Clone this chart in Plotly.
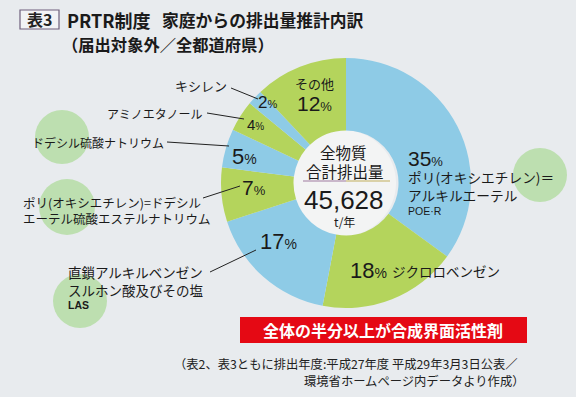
import plotly.graph_objects as go

W, H = 576, 397

# ---- data ----
names = ["ポリ(オキシエチレン)＝アルキルエーテル", "ジクロロベンゼン",
         "直鎖アルキルベンゼンスルホン酸及びその塩", "ポリ(オキシエチレン)=ドデシルエーテル硫酸エステルナトリウム",
         "ドデシル硫酸ナトリウム", "アミノエタノール", "キシレン", "その他"]
shares = [35, 18, 17, 7, 5, 4, 2, 12]
total_label = "45,628"
title_head = "PRTR制度"
title_rest = "家庭からの排出量推計内訳"
title_line2 = "（届出対象外／全都道府県）"
banner = "全体の半分以上が合成界面活性剤"
note1 = "（表2、表3ともに排出年度:平成27年度 平成29年3月3日公表／"
note2 = "環境省ホームページ内データより作成）"

BLUE = "#8ecbe6"
GREEN = "#b4d45c"
colors = [BLUE if i % 2 == 0 else GREEN for i in range(len(shares))]

JP = "Noto Sans CJK JP"
NUM = "Liberation Sans"


def X(x):
    return x / W


def Y(y):
    return 1 - y / H


fig = go.Figure()

# donut
cx, cy, r = 346, 183, 125
fig.add_trace(go.Pie(
    values=shares, labels=names, sort=False, direction="clockwise", rotation=0,
    hole=0.42, marker=dict(colors=colors, line=dict(width=0)),
    textinfo="none", hoverinfo="label+percent", showlegend=False,
    domain=dict(x=[X(cx - r), X(cx + r)], y=[Y(cy + r), Y(cy - r)]),
))

shapes = []
# decorative circles
for (x0, y0, rr) in [(62, 137, 27), (67, 207, 28), (80, 301, 27), (540, 175, 27)]:
    shapes.append(dict(type="circle", xref="paper", yref="paper", layer="below",
                       x0=X(x0 - rr), x1=X(x0 + rr), y0=Y(y0 + rr), y1=Y(y0 - rr),
                       fillcolor="#bddfb0", line=dict(width=0)))
# center white disc
hr = 53
shapes.append(dict(type="circle", xref="paper", yref="paper", layer="below",
                   x0=X(cx - 3 - hr), x1=X(cx - 3 + hr), y0=Y(cy + hr), y1=Y(cy - hr),
                   fillcolor="#f3f4f4", line=dict(width=0)))
# divider in center
shapes.append(dict(type="line", xref="paper", yref="paper",
                   x0=X(303), x1=X(346), y0=Y(181), y1=Y(181), line=dict(color="#a07aa0", width=1.2)))
shapes.append(dict(type="line", xref="paper", yref="paper",
                   x0=X(346), x1=X(390), y0=Y(181), y1=Y(181), line=dict(color="#c2ae5c", width=1.2)))
# title box
shapes.append(dict(type="rect", xref="paper", yref="paper",
                   x0=X(20), x1=X(59), y0=Y(29), y1=Y(10),
                   fillcolor="#f2f2f5", line=dict(color="#6e5f7c", width=1.2)))
# red banner
shapes.append(dict(type="rect", xref="paper", yref="paper",
                   x0=X(240), x1=X(527), y0=Y(343), y1=Y(317),
                   fillcolor="#e50914", line=dict(width=0)))
# leader lines
for (x0, y0, x1, y1) in [(231, 88, 258, 99), (207, 113, 244, 119), (167, 142, 229, 146),
                         (203, 198, 240, 186), (210, 272, 256, 250)]:
    shapes.append(dict(type="line", xref="paper", yref="paper",
                       x0=X(x0), y0=Y(y0), x1=X(x1), y1=Y(y1),
                       line=dict(color="#222222", width=1)))

ann = []


def T(x, y, text, size, anchor="left", color="#1a1a1a", family=JP):
    ann.append(dict(x=X(x), y=Y(y), xref="paper", yref="paper", text=text,
                    showarrow=False, xanchor=anchor, yanchor="middle",
                    font=dict(size=size, color=color, family=family)))


def pct(v, small):
    return f"{v}<span style='font-size:{small}px'>%</span>"


# title
T(39.5, 19.5, "<b>表3</b>", 16, "center", "#222")
T(65, 20, f"<b>{title_head}</b>", 18)
T(160, 20, f"<b>{title_rest}</b>", 16.8)
T(60, 44, f"<b>{title_line2}</b>", 16.3)

# left labels
T(229, 85, names[6], 13, "right")
T(256, 102, pct(shares[6], 11), 17, family=NUM)
T(204, 113, names[5], 12, "right")
T(245, 124, pct(shares[5], 10), 15, family=NUM)
T(166, 142, names[4], 12, "right")
T(230, 156, pct(shares[4], 14), 22, family=NUM)
T(240, 188, pct(shares[3], 13), 21, family=NUM)
T(21, 202, "ポリ(オキシエチレン)=ドデシル", 12.5)
T(21, 218, "エーテル硫酸エステルナトリウム", 12.5)
T(258, 241, pct(shares[2], 14), 22, family=NUM)
T(66, 272, "直鎖アルキルベンゼン", 13.5)
T(66, 290, "スルホン酸及びその塩", 13.5)
T(66, 305, "<b>LAS</b>", 10.5, family=NUM)

# top / right labels
T(314, 83, names[7], 13, "center")
T(314, 103, pct(shares[7], 13), 21, "center", family=NUM)
T(406, 158, pct(shares[0], 13), 21, family=NUM)
T(406, 177, "ポリ(オキシエチレン)＝", 13.7)
T(406, 195, "アルキルエーテル", 13.7)
T(406, 211, "POE·R", 10.5, family=NUM)
T(348, 270, pct(shares[1], 14), 22, family=NUM)
T(390, 271, names[1], 13.5)

# center
T(343, 152, "全物質", 15.5, "center")
T(345, 171, "合計排出量", 15.5, "center")
T(344, 200, total_label, 26, "center", family=NUM)
T(344, 221, "t/年", 12, "center")

# banner & note
T(383, 330, f"<b>{banner}</b>", 16, "center", "white")
T(520, 364, note1, 12.3, "right", "#222")
T(526, 381, note2, 12.3, "right", "#222")

fig.update_layout(
    width=W, height=H, margin=dict(l=0, r=0, t=0, b=0),
    paper_bgcolor="#e8ebee", plot_bgcolor="#e8ebee",
    shapes=shapes, annotations=ann,
)
fig.write_html("out.html", config={"displayModeBar": False},
               post_script="document.body.style.margin='0';document.body.style.overflow='hidden';")
